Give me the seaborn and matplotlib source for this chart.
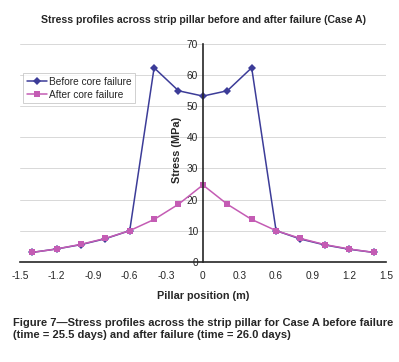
import matplotlib
matplotlib.use("Agg")
import matplotlib.pyplot as plt
import seaborn as sns
import numpy as np
import pandas as pd

# pillar positions (m)
positions = [-1.4, -1.2, -1.0, -0.8, -0.6, -0.4, -0.2, 0.0, 0.2, 0.4, 0.6, 0.8, 1.0, 1.2, 1.4]
before_failure = [3.0, 4.1, 5.5, 7.4, 10.0, 62.4, 55.0, 53.3, 55.0, 62.4, 10.0, 7.3, 5.4, 4.0, 3.0]
after_failure = [3.0, 4.1, 5.6, 7.5, 10.0, 13.6, 18.5, 24.7, 18.5, 13.6, 10.0, 7.5, 5.5, 4.1, 3.0]
xticks = [-1.5, -1.2, -0.9, -0.6, -0.3, 0, 0.3, 0.6, 0.9, 1.2, 1.5]
xtick_labels = ["-1.5", "-1.2", "-0.9", "-0.6", "-0.3", "0", "0.3", "0.6", "0.9", "1.2", "1.5"]
yticks = [0, 10, 20, 30, 40, 50, 60, 70]

sns.set_style("white")
plt.rcParams['font.family'] = ['Liberation Sans', 'DejaVu Sans']

df = pd.DataFrame({
    "pos": positions * 2,
    "stress": before_failure + after_failure,
    "case": ["Before core failure"] * len(positions) + ["After core failure"] * len(positions),
})

fig = plt.figure(figsize=(3.99, 3.62), dpi=100)
ax = fig.add_axes([0.05, 0.277, 0.917, 0.601])

blue = "#3c3c98"
pink = "#c45cb4"
sns.lineplot(data=df, x="pos", y="stress", hue="case", style="case",
             palette={"Before core failure": blue, "After core failure": pink},
             markers={"Before core failure": "D", "After core failure": "s"},
             dashes=False, markersize=3.8, linewidth=1.1, markeredgewidth=0,
             ax=ax, legend=True, sort=False)

ax.set_xlim(-1.5, 1.5)
ax.set_ylim(0, 70)
ax.set_xticks(xticks)
ax.set_xticklabels(xtick_labels)
ax.set_yticks(yticks)
for y in yticks[1:]:
    ax.axhline(y, color="#d8d8d8", lw=0.7, zorder=0)

ax.spines['left'].set_position(('data', 0))
ax.spines['bottom'].set_position(('data', 0))
ax.spines['top'].set_visible(False)
ax.spines['right'].set_visible(False)
ax.spines['left'].set_linewidth(1.2)
ax.spines['bottom'].set_linewidth(1.2)
ax.tick_params(axis='x', direction='inout', length=4, width=1, labelsize=7.3, pad=5)
ax.tick_params(axis='y', direction='out', length=2, width=1, labelsize=7.3, pad=1.5)

ax.set_xlabel("Pillar position (m)", fontsize=7.8, fontweight='bold')
ax.set_ylabel("")
ax.text(-0.215, 36, "Stress (MPa)", rotation=90, fontsize=7.8, fontweight='bold',
        ha='center', va='center')
ax.xaxis.set_label_coords(0.5, -0.135)

leg = ax.legend(loc='upper left', bbox_to_anchor=(-0.005, 0.89), fontsize=7.3,
                frameon=True, fancybox=False, edgecolor="#bbbbbb",
                handlelength=2.0, borderpad=0.35, labelspacing=0.3, handletextpad=0.2)
leg.get_frame().set_linewidth(0.6)

fig.text(0.51, 0.945, "Stress profiles across strip pillar before and after failure (Case A)",
         ha='center', va='center', fontsize=7.6, fontweight='bold')
fig.text(0.033, 0.092, "Figure 7\u2014Stress profiles across the strip pillar for Case A before failure\n"
         "(time = 25.5 days) and after failure (time = 26.0 days)",
         ha='left', va='center', fontsize=8, fontweight='bold', linespacing=1.25)

fig.savefig("out.png", dpi=100, facecolor="#FFFFFF")
